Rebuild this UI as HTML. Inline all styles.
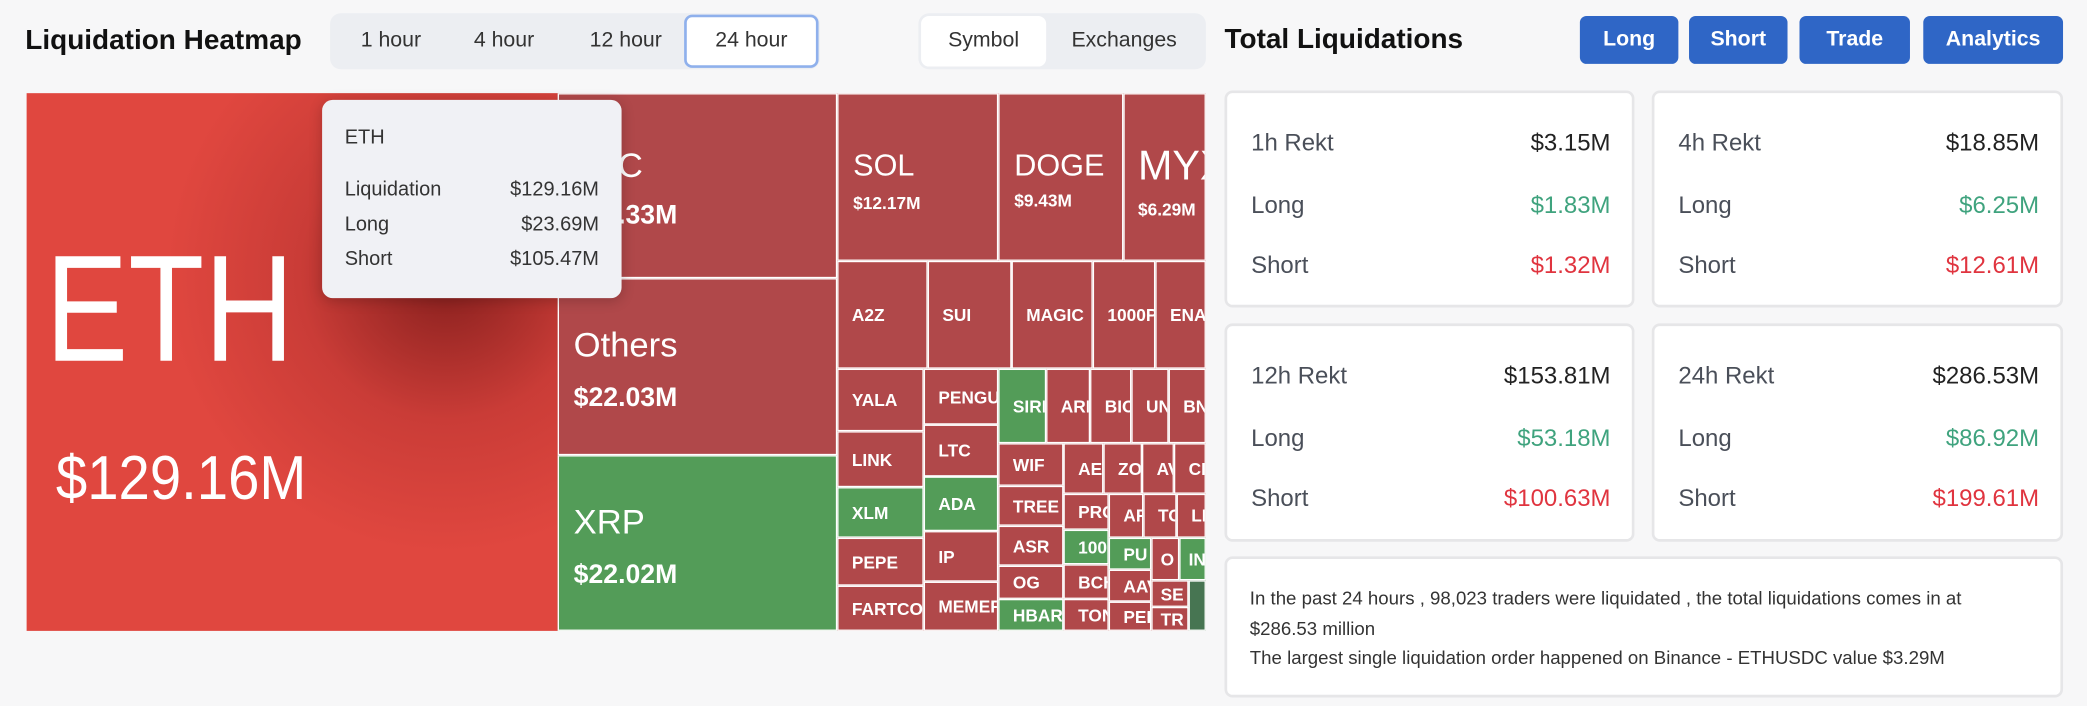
<!DOCTYPE html>
<html><head><meta charset="utf-8"><style>
*{margin:0;padding:0;box-sizing:border-box}
html,body{width:2087px;height:706px;overflow:hidden;background:#f7f7f8;font-family:"Liberation Sans",sans-serif}
#w{position:absolute;left:0;top:0;width:1568px;height:530px;transform:scale(1.33099);transform-origin:0 0}
.a{position:absolute}
.t{position:absolute;border:1px solid #fff;color:#fff;font-weight:bold;font-size:13px;padding-left:10px;display:flex;align-items:center;overflow:hidden;white-space:nowrap;background:#b0484a}
.g{background:#539c58}
.btn{position:absolute;top:12px;height:36px;background:#2f66c6;color:#fff;font-weight:bold;font-size:16px;border-radius:5px;display:flex;align-items:center;justify-content:center}
.card{position:absolute;background:#fff;border:2px solid #e6e6e8;border-radius:6px}
.row{position:absolute;left:18px;right:16px;display:flex;justify-content:space-between;font-size:18px;color:#4a4f59}
.row span:first-child{}
.v{color:#222}
.gr{color:#3fa37e}.rd{color:#e0343f}
</style></head><body><div id="w">
<div class="a" style="left:19px;top:19px;font-size:21px;font-weight:bold;color:#111">Liquidation Heatmap</div>
<div class="a" style="left:248px;top:10px;width:368px;height:42px;background:#eceef2;border-radius:8px"></div>
<div class="a" style="left:271px;top:22px;font-size:16px;color:#333">1 hour</div>
<div class="a" style="left:356px;top:22px;font-size:16px;color:#333">4 hour</div>
<div class="a" style="left:443px;top:22px;font-size:16px;color:#333">12 hour</div>
<div class="a" style="left:514px;top:11px;width:101px;height:40px;background:#fff;border:2px solid #8fb0ec;border-radius:6px;font-size:16px;color:#333;display:flex;align-items:center;justify-content:center">24 hour</div>
<div class="a" style="left:690px;top:10px;width:216px;height:42px;background:#eceef2;border-radius:8px"></div>
<div class="a" style="left:692px;top:12px;width:94px;height:38px;background:#fff;border-radius:6px;font-size:16px;color:#333;display:flex;align-items:center;justify-content:center">Symbol</div>
<div class="a" style="left:805px;top:22px;font-size:16px;color:#333">Exchanges</div>

<div class="a" style="left:20px;top:70px;width:399px;height:404px;background:radial-gradient(circle at 315px 135px,rgba(110,20,20,.8),rgba(160,40,40,.35) 110px,rgba(224,71,63,0) 210px),#e0473f;overflow:hidden;color:#fff">
<div class="a" style="left:14px;top:106px;font-size:114px;line-height:1;transform:scaleX(0.82);transform-origin:0 0">ETH</div>
<div class="a" style="left:22px;top:265px;font-size:47px;line-height:1;transform:scaleX(0.9);transform-origin:0 0">$129.16M</div>
</div>
<div class="t" style="left:419px;top:70px;width:210px;height:139px;display:block;padding:0"><div class="a" style="left:11px;top:38px;font-size:26px;font-weight:normal">BTC</div><div class="a" style="left:11px;top:80px;font-size:20px">$22.33M</div></div>
<div class="t" style="left:419px;top:209px;width:210px;height:133px;display:block;padding:0"><div class="a" style="left:11px;top:34px;font-size:26px;font-weight:normal">Others</div><div class="a" style="left:11px;top:78px;font-size:20px">$22.03M</div></div>
<div class="t g" style="left:419px;top:342px;width:210px;height:132px;display:block;padding:0"><div class="a" style="left:11px;top:34px;font-size:26px;font-weight:normal">XRP</div><div class="a" style="left:11px;top:78px;font-size:20px">$22.02M</div></div>

<div class="t" style="left:629px;top:70px;width:121px;height:126px;display:block;padding:0"><div class="a" style="left:11px;top:40px;font-size:23px;font-weight:normal">SOL</div><div class="a" style="left:11px;top:74px;font-size:13px">$12.17M</div></div>
<div class="t" style="left:750px;top:70px;width:94px;height:126px;display:block;padding:0"><div class="a" style="left:11px;top:40px;font-size:23px;font-weight:normal">DOGE</div><div class="a" style="left:11px;top:72px;font-size:13px">$9.43M</div></div>
<div class="t" style="left:844px;top:70px;width:62px;height:126px;display:block;padding:0"><div class="a" style="left:10px;top:36px;font-size:31px;font-weight:normal">MYX</div><div class="a" style="left:10px;top:79px;font-size:13px">$6.29M</div></div>

<div class="t" style="left:629px;top:196px;width:68px;height:81px">A2Z</div>
<div class="t" style="left:697px;top:196px;width:63px;height:81px">SUI</div>
<div class="t" style="left:760px;top:196px;width:61px;height:81px">MAGIC</div>
<div class="t" style="left:821px;top:196px;width:47px;height:81px">1000PEPE</div>
<div class="t" style="left:868px;top:196px;width:38px;height:81px">ENA</div>

<div class="t" style="left:629px;top:277px;width:65px;height:47px">YALA</div>
<div class="t" style="left:629px;top:324px;width:65px;height:42px">LINK</div>
<div class="t g" style="left:629px;top:366px;width:65px;height:38px">XLM</div>
<div class="t" style="left:629px;top:404px;width:65px;height:36px">PEPE</div>
<div class="t" style="left:629px;top:440px;width:65px;height:34px">FARTCOIN</div>

<div class="t" style="left:694px;top:277px;width:56px;height:42px">PENGU</div>
<div class="t" style="left:694px;top:319px;width:56px;height:39px">LTC</div>
<div class="t g" style="left:694px;top:358px;width:56px;height:41px">ADA</div>
<div class="t" style="left:694px;top:399px;width:56px;height:38px">IP</div>
<div class="t" style="left:694px;top:437px;width:56px;height:37px">MEMEFI</div>

<div class="t g" style="left:750px;top:277px;width:36px;height:56px">SIREN</div>
<div class="t" style="left:786px;top:277px;width:33px;height:56px">ARB</div>
<div class="t" style="left:819px;top:277px;width:31px;height:56px">BIO</div>
<div class="t" style="left:850px;top:277px;width:28px;height:56px">UNI</div>
<div class="t" style="left:878px;top:277px;width:28px;height:56px">BNB</div>

<div class="t" style="left:750px;top:333px;width:49px;height:32px">WIF</div>
<div class="t" style="left:750px;top:365px;width:49px;height:30px">TREE</div>
<div class="t" style="left:750px;top:395px;width:49px;height:30px">ASR</div>
<div class="t" style="left:750px;top:425px;width:49px;height:25px">OG</div>
<div class="t g" style="left:750px;top:450px;width:49px;height:24px">HBAR</div>

<div class="t" style="left:799px;top:333px;width:30px;height:38px">AE</div>
<div class="t" style="left:829px;top:333px;width:29px;height:38px">ZO</div>
<div class="t" style="left:858px;top:333px;width:24px;height:38px">AV</div>
<div class="t" style="left:882px;top:333px;width:24px;height:38px">CR</div>

<div class="t" style="left:799px;top:371px;width:34px;height:27px">PRO</div>
<div class="t g" style="left:799px;top:398px;width:34px;height:26px">100</div>
<div class="t" style="left:799px;top:424px;width:34px;height:26px">BCH</div>
<div class="t" style="left:799px;top:450px;width:34px;height:24px">TON</div>

<div class="t" style="left:833px;top:371px;width:26px;height:33px">AR</div>
<div class="t" style="left:859px;top:371px;width:25px;height:33px">TO</div>
<div class="t" style="left:884px;top:371px;width:22px;height:33px">LD</div>

<div class="t g" style="left:833px;top:404px;width:32px;height:24px">PU</div>
<div class="t" style="left:833px;top:428px;width:32px;height:24px">AAV</div>
<div class="t" style="left:833px;top:452px;width:32px;height:22px">PEI</div>

<div class="t" style="left:865px;top:404px;width:21px;height:32px;padding-left:6px">O</div>
<div class="t g" style="left:886px;top:404px;width:20px;height:32px;padding-left:6px">IN</div>
<div class="t" style="left:865px;top:436px;width:28px;height:20px;padding-left:6px">SE</div>
<div class="t" style="left:865px;top:456px;width:28px;height:18px;padding-left:6px">TR</div>
<div class="t" style="left:893px;top:436px;width:13px;height:38px;background:#477552"></div>

<div class="a" style="left:242px;top:75px;width:225px;height:149px;background:#f0f1f5;border-radius:8px;box-shadow:0 2px 10px rgba(0,0,0,.2);font-size:15px;color:#333">
<div class="a" style="left:17px;top:20px">ETH</div>
<div class="a" style="left:17px;right:17px;top:59px;display:flex;justify-content:space-between"><span>Liquidation</span><span>$129.16M</span></div>
<div class="a" style="left:17px;right:17px;top:85px;display:flex;justify-content:space-between"><span>Long</span><span>$23.69M</span></div>
<div class="a" style="left:17px;right:17px;top:111px;display:flex;justify-content:space-between"><span>Short</span><span>$105.47M</span></div>
</div>

<div class="a" style="left:920px;top:18px;font-size:21px;font-weight:bold;color:#111">Total Liquidations</div>
<div class="btn" style="left:1187px;width:74px">Long</div>
<div class="btn" style="left:1269px;width:74px">Short</div>
<div class="btn" style="left:1352px;width:83px">Trade</div>
<div class="btn" style="left:1445px;width:105px">Analytics</div>

<div class="card" style="left:920px;top:68px;width:308px;height:163px">
<div class="row" style="top:27px"><span>1h Rekt</span><span class="v">$3.15M</span></div>
<div class="row" style="top:74px"><span>Long</span><span class="gr">$1.83M</span></div>
<div class="row" style="top:119px"><span>Short</span><span class="rd">$1.32M</span></div></div>
<div class="card" style="left:1241px;top:68px;width:309px;height:163px">
<div class="row" style="top:27px"><span>4h Rekt</span><span class="v">$18.85M</span></div>
<div class="row" style="top:74px"><span>Long</span><span class="gr">$6.25M</span></div>
<div class="row" style="top:119px"><span>Short</span><span class="rd">$12.61M</span></div></div>
<div class="card" style="left:920px;top:243px;width:308px;height:164px">
<div class="row" style="top:27px"><span>12h Rekt</span><span class="v">$153.81M</span></div>
<div class="row" style="top:74px"><span>Long</span><span class="gr">$53.18M</span></div>
<div class="row" style="top:119px"><span>Short</span><span class="rd">$100.63M</span></div></div>
<div class="card" style="left:1241px;top:243px;width:309px;height:164px">
<div class="row" style="top:27px"><span>24h Rekt</span><span class="v">$286.53M</span></div>
<div class="row" style="top:74px"><span>Long</span><span class="gr">$86.92M</span></div>
<div class="row" style="top:119px"><span>Short</span><span class="rd">$199.61M</span></div></div>
<div class="card" style="left:920px;top:418px;width:630px;height:106px">
<div class="a" style="left:17px;top:18px;font-size:14px;line-height:22.5px;color:#333">In the past 24 hours , 98,023 traders were liquidated , the total liquidations comes in at<br>$286.53 million<br>The largest single liquidation order happened on Binance - ETHUSDC value $3.29M</div></div>
</div></body></html>
